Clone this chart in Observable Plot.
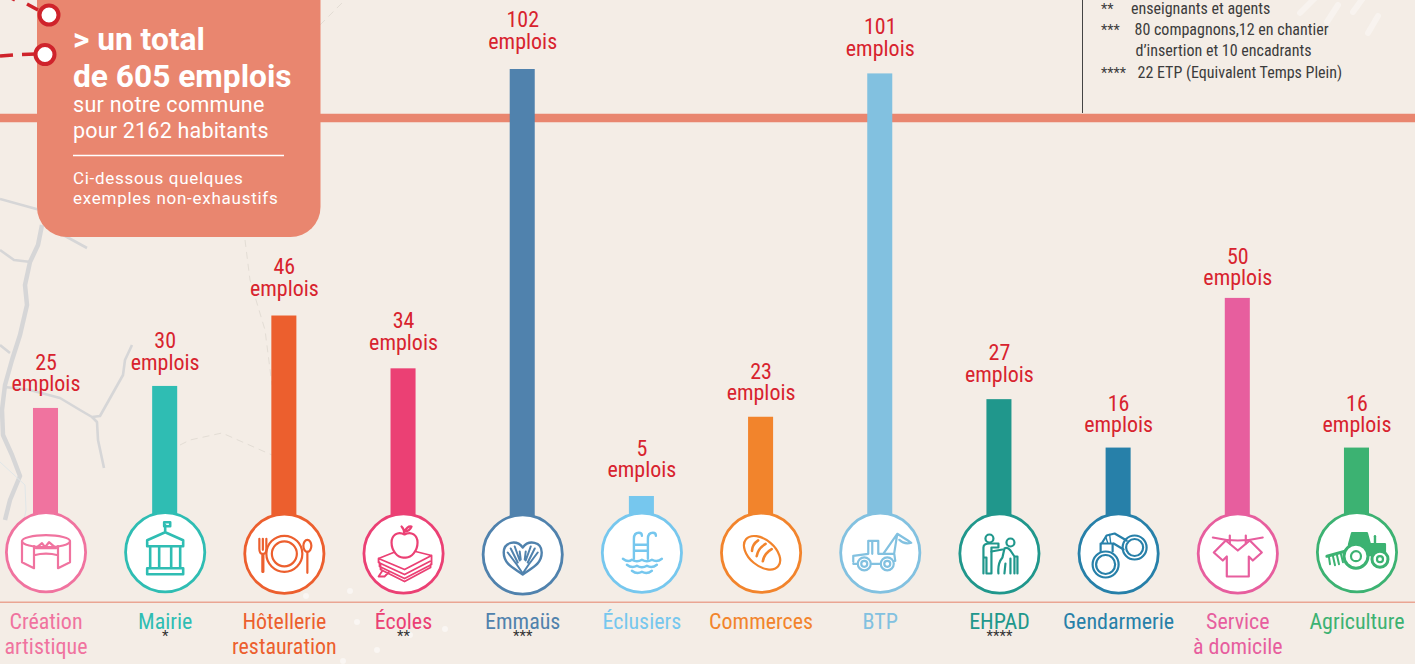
<!DOCTYPE html>
<html lang="fr"><head><meta charset="utf-8">
<script src="https://cdn.jsdelivr.net/npm/d3@7"></script>
<script src="https://cdn.jsdelivr.net/npm/@observablehq/plot@0.6"></script>
<style>
html,body{margin:0;padding:0;background:#f4ede6;overflow:hidden}
#stage{position:relative;width:1415px;height:664px;overflow:hidden}
#stage>svg{position:absolute;left:0;top:0;display:block}
text{font-family:"Roboto Condensed","Liberation Sans Narrow",Roboto,sans-serif;font-stretch:75%;font-weight:430}
.box text{font-family:Roboto,sans-serif;font-stretch:100%;fill:#fff;font-weight:400}
.box text.b{font-weight:700}
.star text{font-family:Roboto,sans-serif;font-stretch:100%;font-weight:400}
</style></head><body><div id="stage">
<svg id="bg" width="1415" height="664" fill="none">
 <g stroke="#d6d6d7" stroke-linejoin="round" stroke-linecap="butt">
  <path stroke-width="4.5" d="M42,225 L38,245 L30,262 L25,285 L27,305 L20,335 L12,360 L5,385 L2,410 L3,435 L12,455 L20,476 L10,500 L5,520"/>
  <path stroke-width="2.6" d="M0,199 L40,210 M45,225 L87,248 M0,250 L14,260 L31,262 M0,345 L10,353 M5,387 L30,390 L60,398 L80,410 L92,417 L97,422 L98,440 L104,468 M92,417 L100,416 L123,375 L125,360 L132,345"/>
 </g>
 <path stroke="#e3ddd5" stroke-dasharray="7 5" d="M245,240 L250,280 L265,330 L272,385 M180,445 L190,440 L222,433 L272,455 M320,25 L345,0"/>
 <path stroke="#e0e6e8" d="M0,462 L25,485 L26,510 L24,520"/>
 <g stroke="#fff" stroke-opacity=".35" stroke-width="6" stroke-linecap="round">
  <path d="M1300,13 L1315,-2 M1327,22 L1338,5 M1368,33 L1378,16 M1353,12 L1363,-2"/>
 </g>
 <g fill="#fff" fill-opacity=".5">
  <circle cx="350" cy="591" r="3"/><circle cx="306" cy="596" r="3"/><circle cx="357" cy="622" r="3"/><circle cx="377" cy="650" r="3"/><circle cx="445" cy="629" r="3"/><circle cx="410" cy="635" r="3"/><circle cx="343" cy="661" r="3"/>
 </g>
</svg>
</div>
<script>
const categories = ["Création artistique","Mairie","Hôtellerie restauration","Écoles","Emmaüs","Éclusiers","Commerces","BTP","EHPAD","Gendarmerie","Service à domicile","Agriculture"];
const labels = ["Création\nartistique","Mairie","Hôtellerie\nrestauration","Écoles","Emmaüs","Éclusiers","Commerces","BTP","EHPAD","Gendarmerie","Service\nà domicile","Agriculture"];
const emplois = [25,30,46,34,102,5,23,101,27,16,50,16];
const colors = ["#f0739f","#2fbdb3","#ec5f2e","#eb4074","#5082ad","#76c7ee","#f2842c","#82c1e0","#20978c","#2780a9","#e75e9e","#3cb272"];
const stars = ["","*","","**","***","","","","****","","",""];
const iconOffsetY = [-112.3,-112.3,-110.7,-111,-110,-111.7,-111.7,-111.7,-111,-111,-111,-112.3];
const labelShift = [0,.5,-3.5,-2,-4,-2,0,-1,-1,1,4,1];

const icons = [
 `<ellipse cx="0" cy="-11" rx="24" ry="6"/><path d="M-24,-11V10L-12,16V3Q0,0 12,3V16L24,10V-11M-12,3V-6M12,3V-6"/><path d="M-10,-4L-4,-9L-1,-5L3,-10L10,-4Z"/>`,
 `<g stroke-width="2.6"><path d="M-18,-12L0,-20L18,-12V-6H-18ZM-15,-6V15M-6,-6V15M6,-6V15M15,-6V15M-18,16H18V22H-18ZM0,-20V-27"/><rect x="-1" y="-30" width="6" height="4"/></g>`,
 `<circle r="18"/><circle r="12.5"/><path d="M-25,-15V-5Q-25,0 -22,0V18H-21V0Q-18,0 -18,-5V-15M-21.5,-15V-4"/><ellipse cx="23" cy="-8" rx="4" ry="6"/><path d="M23,-2V19"/>`,
 `<path stroke-width="1.8" d="M-25,5L0,-5L28,2L1,16ZM-25,5V9L1,21L28,7V2M-24,9V13L1,25L28,11V7M-23,12V16L1,28L27,14V11M-21,17L-25,23L-19,23L-15,19"/><path fill="#fff" d="M1,-19C-6,-23 -12,-18 -12,-11C-12,-3 -6,5 1,4C8,5 14,-3 14,-11C14,-18 8,-23 1,-19ZM1,-19Q1,-24 -2,-27M1,-22Q4,-28 8,-27Q6,-22 1,-22Z"/>`,
 `<path stroke-width="2.4" d="M0,20C-8,14 -19,10 -19,-2C-19,-13 -6,-15 0,-7C6,-15 19,-13 19,-2C19,10 8,14 0,20Z"/><path stroke-width="2" d="M0,19L-6,10L-15,-2M-5,8L-12,-6M-3,6L-8,-8M-2,5L-3,-3M0,19L6,10L15,-2M5,8L12,-6M3,6L8,-8M2,5L3,-3"/>`,
 `<path stroke-width="2.4" d="M-8,6V-14Q-8,-20 -3,-20Q0,-20 0,-17M6,6V-14Q6,-20 11,-20Q14,-20 14,-17M-8,-8H6M-8,-2H6"/><path stroke-width="2.4" d="M-19,6Q-14,10 -10,7Q-5,10 0,7Q5,10 10,7Q15,10 20,6M-15,12Q-10,16 -5,13Q0,16 5,13Q10,16 15,12M-10,18Q-5,22 0,19Q5,22 10,18"/>`,
 `<g transform="translate(1,0) rotate(40)"><ellipse rx="21" ry="13"/><path stroke-width="2.6" d="M-11,-7Q-13,0 -9,5M-3,-9Q-6,-1 -2,6M5,-9Q2,-1 6,6"/></g>`,
 `<circle cx="-16" cy="11" r="6.5"/><circle cx="-16" cy="11" r="3"/><circle cx="7" cy="11" r="6.5"/><circle cx="7" cy="11" r="3"/><path d="M-27,9V3L-12,1V-12H-2V1H14L15,8H14M-23,11H-27M-9,11H0M-8,-12V1M14,0L17,-19L28,-12L31,-10Q24,-8 19,-13M3,1L17,-19"/>`,
 `<circle cx="-10" cy="-15" r="4"/><circle cx="11" cy="-11" r="4"/><path d="M-16,20L-16,-6Q-16,-10 -10,-10H-1V-6H-8V20H-13V4H-16M-1,20Q-2,10 3,4L5,-5Q8,-7 11,-3L15,3V20M5,20L6,10M11,20V5M15,3H18V20"/><path d="M-8,-2L3,-4"/>`,
 `<circle cx="-13" cy="11" r="13"/><circle cx="-13" cy="11" r="9.5"/><circle cx="16" cy="-6" r="12"/><circle cx="16" cy="-6" r="8.5"/><path d="M-18,-2V-10H-6V-2M-17,-10L-12,-18L-4,-20L8,-13M-5,-10L5,-4"/><path d="M-13,-17L-11,-11M-9,-19L-8,-11" stroke-width="1.4"/>`,
 `<path d="M-25,-16Q0,-10 25,-16" stroke-width="2"/><path fill="#fff" d="M-12,-13L-24,-1L-15,7L-11,3V23H11V3L15,7L24,-1L12,-13L0,-3Z"/><path d="M-8,-18V-10M8,-18V-10"/>`,
 `<path stroke-width="3.2" d="M-30,4L-12,-1"/><path stroke-width="2" d="M-28,5L-27,12M-24,4L-22,13M-20,3L-18,12M-16,2L-14,10"/><path fill="currentColor" d="M-5,-19H10L13,-8H-8ZM-8,-8H28V3H-8Z"/><path stroke-width="2.4" d="M18,-8V-16"/><g fill="#fff" stroke-width="3"><circle cx="-1" cy="4" r="12"/><circle cx="23" cy="7" r="8"/></g><circle cx="-1" cy="4" r="5"/><circle cx="23" cy="7" r="3"/>`
];
const iconURI = (svg, c) => "data:image/svg+xml;utf8," + encodeURIComponent(
 `<svg xmlns="http://www.w3.org/2000/svg" width="80" height="80" viewBox="-40 -40 80 80" fill="none" stroke="${c}" stroke-width="2.2" stroke-linejoin="round" stroke-linecap="round" style="color:${c}">${svg}</svg>`);

const rows = categories.map((c,i)=>({c,v:emplois[i],col:colors[i],label:labels[i],star:stars[i],oy:iconOffsetY[i],ls:labelShift[i],icon:iconURI(icons[i],colors[i])}));
const bandRule = 91, baseRule = -19;
const F = '"Roboto Condensed","Liberation Sans Narrow",Roboto,sans-serif';

const chart = Plot.plot({
 width:1415,height:664,margin:0,
 style:{background:"transparent",overflow:"visible"},
 x:{domain:categories,range:[-14.09,1416.07],paddingInner:.79,paddingOuter:.395,align:.5,round:false,axis:null},
 y:{domain:[0,102],range:[518,69],axis:null},
 marks:[
  Plot.ruleY([bandRule],{stroke:"#e9866f",strokeWidth:8.5}),
  Plot.ruleY([baseRule],{stroke:"#eaa593",strokeWidth:1.5}),
  Plot.barY(rows,{x:"c",y:"v",fill:"col"}),
  ...rows.map(r=>Plot.dot([r],{x:"c",frameAnchor:"bottom",dy:r.oy,r:39.6,fill:"#fff",stroke:r.col,strokeWidth:2.8})),
  ...rows.map(r=>Plot.image([r],{x:"c",frameAnchor:"bottom",dy:r.oy,src:"icon",width:80,height:80})),
  ...rows.map(r=>Plot.text([r],{x:"c",y:"v",text:d=>d.v+"\nemplois",fill:"#d8232e",fontSize:22,lineHeight:.98,lineAnchor:"bottom",dy:-17+r.ls,fontFamily:F})),
  Plot.text(rows,{x:"c",text:"label",fill:"col",frameAnchor:"top",lineAnchor:"top",dy:611,fontSize:22,lineHeight:1.14,fontFamily:F}),
  Plot.text(rows.filter(r=>r.star),{x:"c",text:"star",fill:"#333",frameAnchor:"top",lineAnchor:"top",dy:630,fontSize:15,className:"star",fontFamily:"Roboto"})
 ]
});
document.getElementById("stage").append(chart);

document.getElementById("stage").insertAdjacentHTML("beforeend",`
<svg width="1415" height="664" fill="none">
 <g class="box">
  <rect x="37" y="-40" width="283.5" height="277" rx="30" fill="#e9866f"/>
  <text class="b" x="73" y="49.5" font-size="31.7">&gt; un total</text>
  <text class="b" x="73" y="87" font-size="31.7">de 605 emplois</text>
  <text x="73" y="112" font-size="21.5" letter-spacing=".28">sur notre commune</text>
  <text x="73" y="138" font-size="21.5" letter-spacing=".2">pour 2162 habitants</text>
  <line x1="73" x2="284" y1="155.5" y2="155.5" stroke="#fff" stroke-width="1.5"/>
  <text x="73" y="184" font-size="17" letter-spacing=".7">Ci-dessous quelques</text>
  <text x="73" y="204" font-size="17" letter-spacing=".73">exemples non-exhaustifs</text>
 </g>
 <g stroke="#cf232b" stroke-width="3.6">
  <path d="M0,-8 L15,0 M27,4 L38,10" />
  <path d="M0,56 L13,55 M22,54.5 L36,54"/>
  <g stroke-width="4"><circle cx="49" cy="15" r="9.5" fill="#fff"/><circle cx="45" cy="54.5" r="9.5" fill="#fff"/></g>
 </g>
 <line x1="1082.5" x2="1082.5" y1="0" y2="113" stroke="#444"/>
 <g fill="#3c3c3c" font-size="16">
  <text x="1101" y="14" font-size="14.5">**</text><text x="1131" y="14">enseignants et agents</text>
  <text x="1101" y="35" font-size="14.5">***</text><text x="1134.5" y="35">80 compagnons,12 en chantier</text>
  <text x="1135.5" y="56">d’insertion et 10 encadrants</text>
  <text x="1101" y="78" font-size="14.5">****</text><text x="1137.5" y="78">22 ETP (Equivalent Temps Plein)</text>
 </g>
</svg>`);
</script></body></html>
